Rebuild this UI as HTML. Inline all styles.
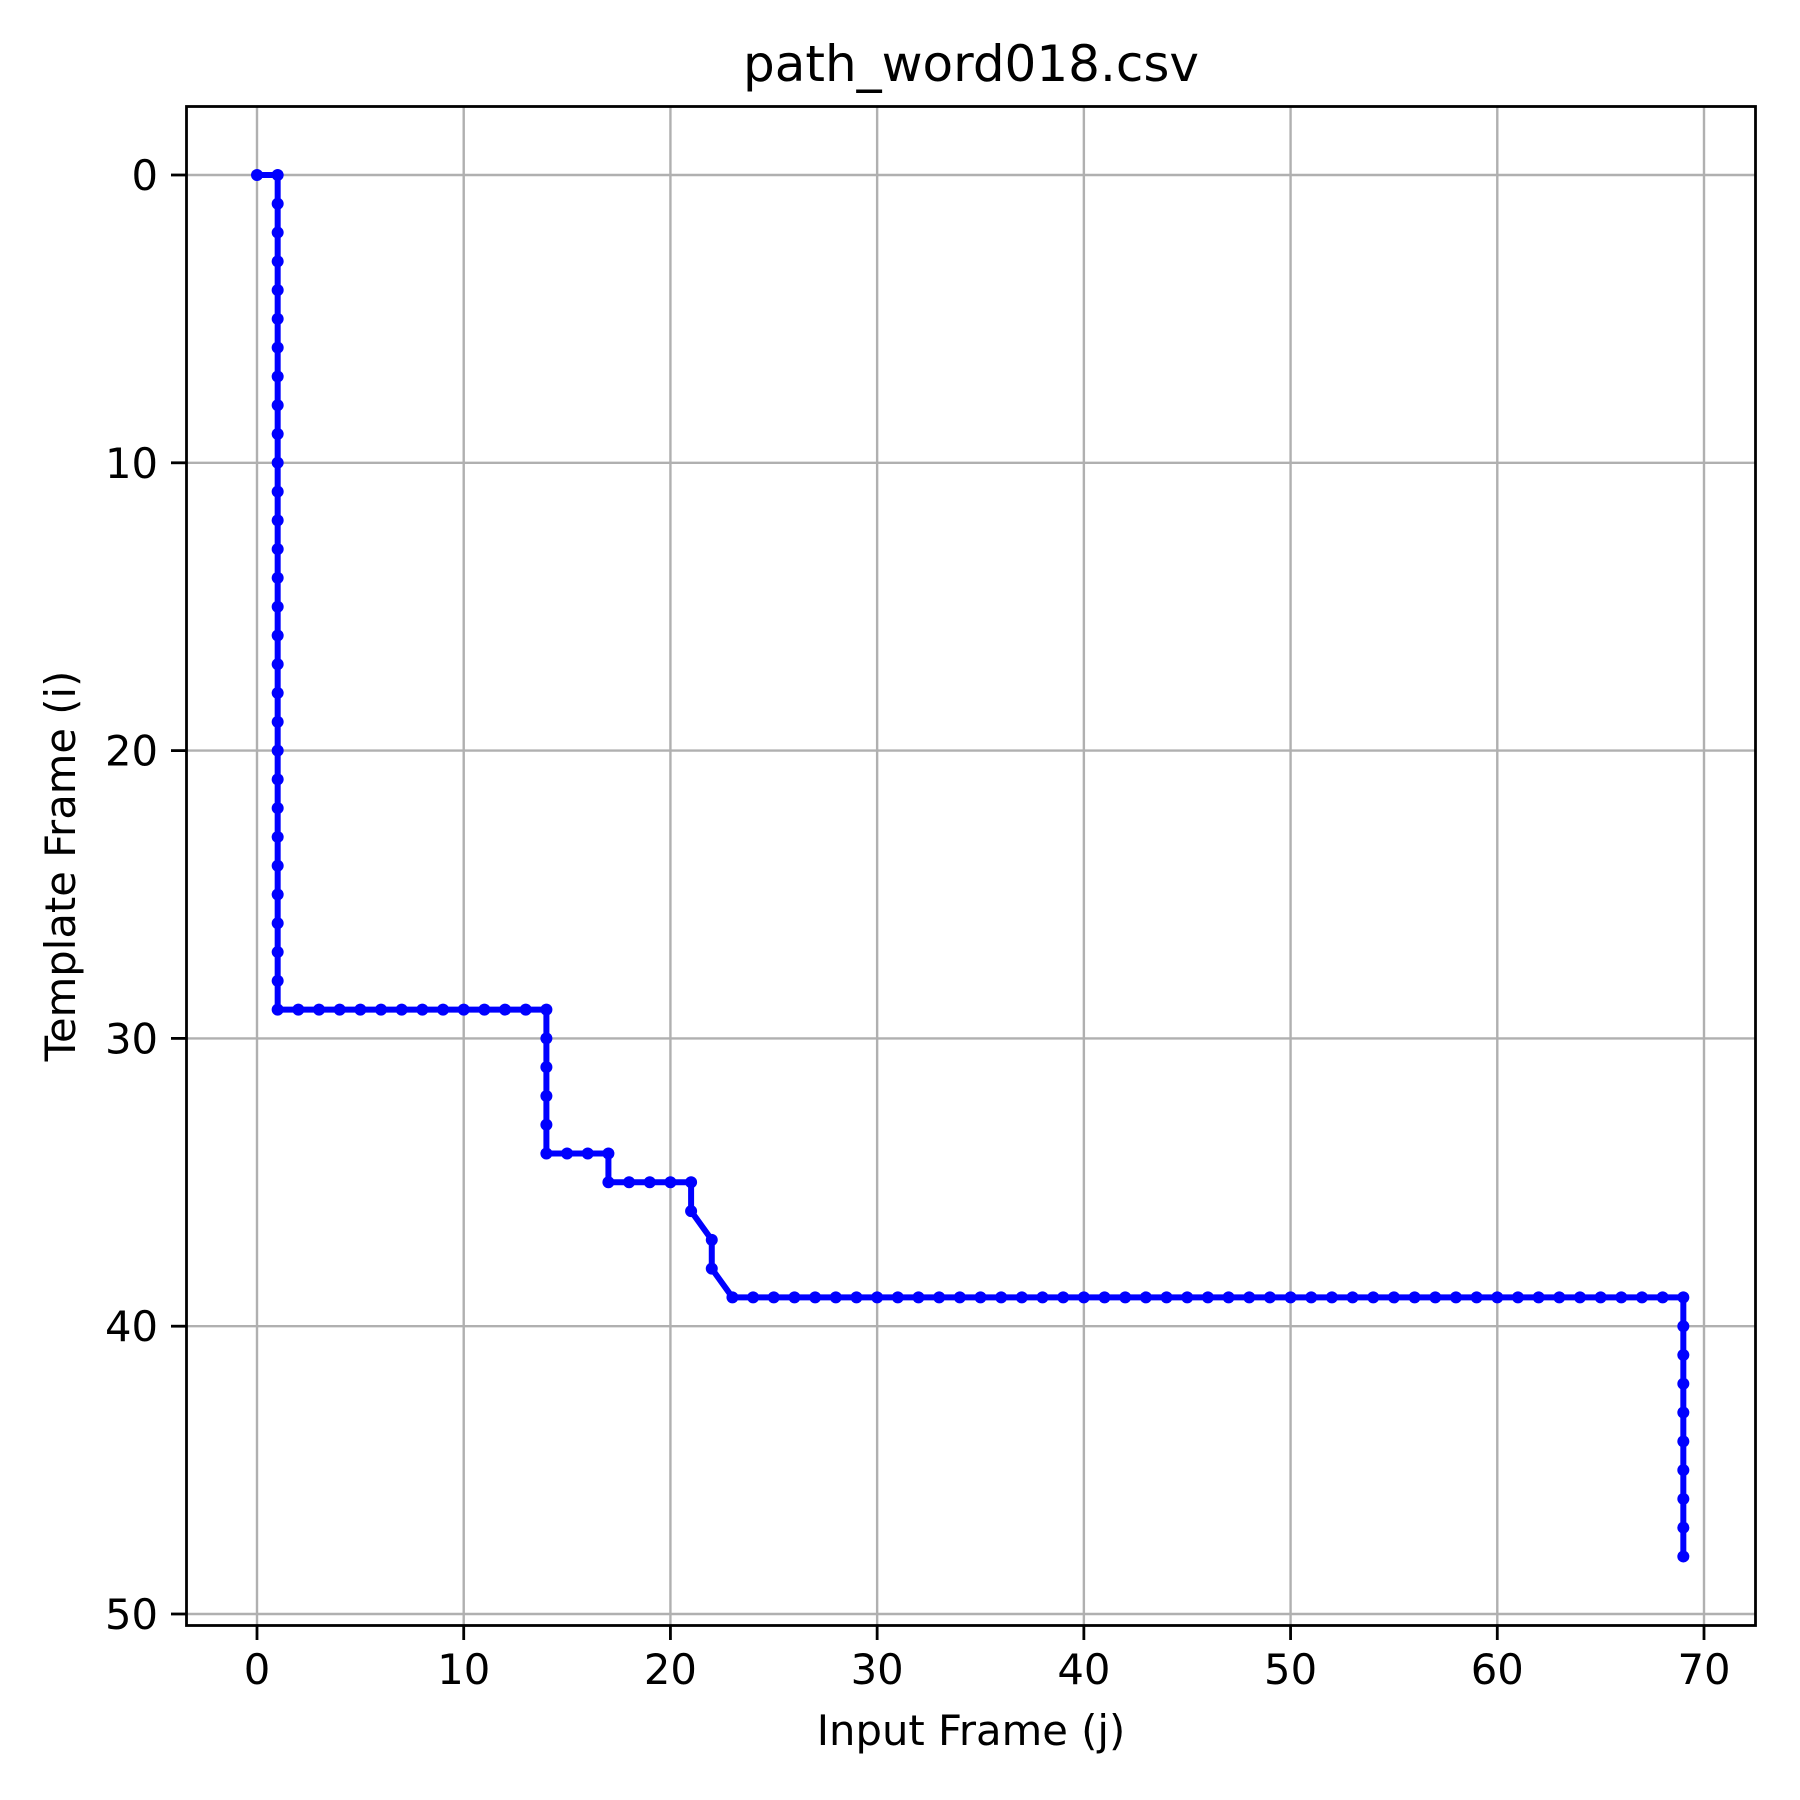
<!DOCTYPE html>
<html><head><meta charset="utf-8"><style>
html,body{margin:0;padding:0;background:#fff;}
svg{display:block;font-family:"DejaVu Sans","Liberation Sans",sans-serif;}
</style></head><body>
<svg id="chart" width="1800" height="1800" viewBox="0 0 1800 1800">
<rect width="1800" height="1800" fill="#fff"/>
<g id="grid"></g>
<g id="series"></g>
<rect x="186.5" y="106.5" width="1569" height="1519" fill="none" stroke="#000" stroke-width="2.8"/>
<g id="ticks"></g>
<text x="971" y="81" font-size="50" text-anchor="middle">path_word018.csv</text>
<text x="971" y="1745" font-size="41.7" text-anchor="middle">Input Frame (j)</text>
<text transform="translate(75,866) rotate(-90)" font-size="41.7" text-anchor="middle">Template Frame (i)</text>
</svg>
<script>
const xTicks=[0,10,20,30,40,50,60,70];
const yTicks=[0,10,20,30,40,50];
const pathJ=[0,1,1,1,1,1,1,1,1,1,1,1,1,1,1,1,1,1,1,1,1,1,1,1,1,1,1,1,1,1,1,2,3,4,5,6,7,8,9,10,11,12,13,14,14,14,14,14,14,15,16,17,17,18,19,20,21,21,22,22,23,24,25,26,27,28,29,30,31,32,33,34,35,36,37,38,39,40,41,42,43,44,45,46,47,48,49,50,51,52,53,54,55,56,57,58,59,60,61,62,63,64,65,66,67,68,69,69,69,69,69,69,69,69,69,69];
const pathI=[0,0,1,2,3,4,5,6,7,8,9,10,11,12,13,14,15,16,17,18,19,20,21,22,23,24,25,26,27,28,29,29,29,29,29,29,29,29,29,29,29,29,29,29,30,31,32,33,34,34,34,34,35,35,35,35,35,36,37,38,39,39,39,39,39,39,39,39,39,39,39,39,39,39,39,39,39,39,39,39,39,39,39,39,39,39,39,39,39,39,39,39,39,39,39,39,39,39,39,39,39,39,39,39,39,39,39,40,41,42,43,44,45,46,47,48];
const NS='http://www.w3.org/2000/svg';
const X=v=>257+v*(1704-257)/70;
const Y=v=>175+v*(1614-175)/50;
function mk(t,a,p){const e=document.createElementNS(NS,t);for(const k in a)e.setAttribute(k,a[k]);p.appendChild(e);return e;}
const grid=document.getElementById('grid'),ticks=document.getElementById('ticks'),ser=document.getElementById('series');
xTicks.forEach(v=>{
 const g=mk('line',{x1:X(v),x2:X(v),y1:106,y2:1625,stroke:'#b0b0b0','stroke-width':2.4},grid);
 
 
 const t=mk('line',{x1:X(v),x2:X(v),y1:1625,y2:1640,stroke:'#000','stroke-width':2.8},ticks);
 
 
 const l=mk('text',{x:X(v),y:1684,'font-size':41.7,'text-anchor':'middle'},ticks);l.textContent=v;
 
 
});
yTicks.forEach(v=>{
 const g=mk('line',{x1:186,x2:1756,y1:Y(v),y2:Y(v),stroke:'#b0b0b0','stroke-width':2.4},grid);
 
 
 const t=mk('line',{x1:171,x2:186,y1:Y(v),y2:Y(v),stroke:'#000','stroke-width':2.8},ticks);
 
 
 const l=mk('text',{x:158,y:Y(v)+15,'font-size':41.7,'text-anchor':'end'},ticks);l.textContent=v;
 
 
});
const pts=pathJ.map((j,k)=>X(j)+','+Y(pathI[k])).join(' ');
const pl=mk('polyline',{points:pts,fill:'none',stroke:'#0000ff','stroke-width':6,'stroke-linejoin':'round'},ser);


pathJ.forEach((j,k)=>{
 const c=mk('circle',{cx:X(j),cy:Y(pathI[k]),r:6,fill:'#0000ff'},ser);
 
 
});
</script>
</body></html>
